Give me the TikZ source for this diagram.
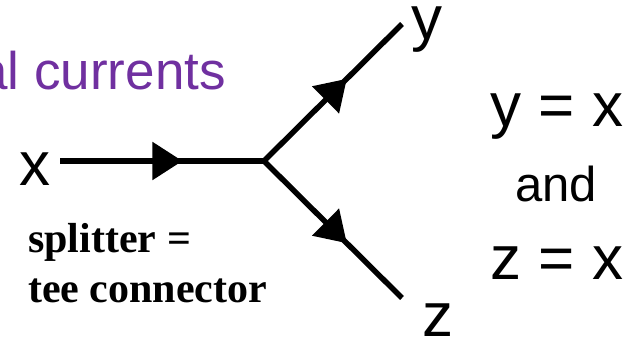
\documentclass[tikz,border=0pt]{standalone}
\usepackage{fontspec}
\setmainfont{Liberation Sans}
\newfontfamily\capfont{Liberation Serif}
\usetikzlibrary{arrows.meta,decorations.markings}
\definecolor{titlepurple}{HTML}{7030A0}

\begin{document}
\begin{tikzpicture}[
  x=1pt,y=-1pt,
  line cap=butt,line join=miter,
  letter/.style={font=\fontsize{62}{70}\selectfont,inner sep=0pt,anchor=base west},
  rel/.style={font=\fontsize{62}{70}\selectfont,inner sep=0pt,anchor=base},
  note/.style={font=\capfont\bfseries\fontsize{42}{50}\selectfont,inner sep=0pt,
               anchor=base west},
  wire/.style={line width=5.5pt,draw=black,postaction={decorate},
    decoration={markings,
      mark=at position .6 with {\arrow{Triangle[length=30pt,width=37pt]}}}}
]
\useasboundingbox (0,0) rectangle (633,339);
\node[font=\fontsize{53}{60}\selectfont,text=titlepurple,inner sep=0pt,
  anchor=base east] (title) at (226,90) {al currents};
% the tee
\coordinate (junc) at (264,161);
\coordinate (xin) at (60,161);
\coordinate (yout) at (402,24);
\coordinate (zout) at (402,298);
\draw[wire] (xin) -- (junc);
\draw[wire] (junc) -- (yout);
\draw[wire] (junc) -- (zout);
\node[letter] (xlab) at (19,186) {x};
\node[letter] (ylab) at (411,40) {y};
\node[letter] (zlab) at (422,337) {z};
% relations
\node[rel] (yeq) at (557,127) {y = x};
\node[rel,font=\fontsize{49}{56}\selectfont] (andw) at (556,202) {and};
\node[rel] (zeq) at (557,280) {z = x};
\node[note] (split) at (28,253) {splitter =};
\node[note] (teecon) at (28,303) {tee connector};
\end{tikzpicture}
\end{document}
